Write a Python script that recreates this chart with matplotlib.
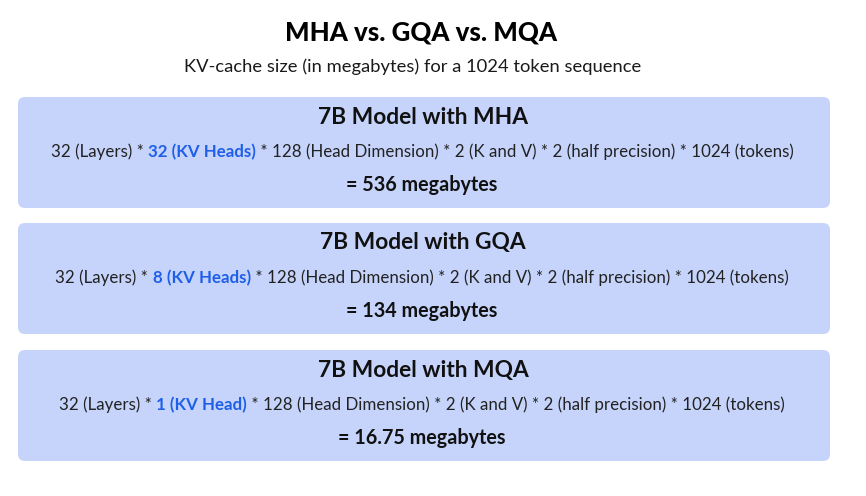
import matplotlib
matplotlib.use("Agg")
import matplotlib.pyplot as plt
from matplotlib.patches import FancyBboxPatch

plt.rcParams['font.family'] = ['Lato', 'DejaVu Sans']

title = "MHA vs. GQA vs. MQA"
subtitle = "KV-cache size (in megabytes) for a 1024 token sequence"
models = ["MHA", "GQA", "MQA"]
kv_heads = ["32 (KV Heads)", "8 (KV Heads)", "1 (KV Head)"]
results = ["536", "134", "16.75"]
prefix = "32 (Layers) * "
suffix = " * 128 (Head Dimension) * 2 (K and V) * 2 (half precision) * 1024 (tokens)"

W, H = 866, 496
fig = plt.figure(figsize=(W / 100, H / 100), dpi=100)
ax = fig.add_axes([0, 0, 1, 1])
ax.set_xlim(0, W)
ax.set_ylim(H, 0)
ax.axis('off')
fig.patch.set_facecolor('white')

box_color = '#c6d4fb'
blue = '#1f5fe8'
dark = '#222222'

ax.text(421, 33, title, ha='center', va='center', fontsize=18.6, fontweight='black', color='black')
ax.text(413, 67, subtitle, ha='center', va='center', fontsize=13.2, color='#1a1a1a')

box_top = [97, 223, 350]
box_h = 111
fig.canvas.draw()
renderer = fig.canvas.get_renderer()

for i, m in enumerate(models):
    y0 = box_top[i]
    ax.add_patch(FancyBboxPatch((18, y0), 812, box_h,
                                boxstyle="round,pad=0,rounding_size=7",
                                facecolor=box_color, edgecolor='none'))
    ax.text(423, y0 + 20, "7B Model with " + m, ha='center', va='center',
            fontsize=16.4, fontweight='bold', color='#111111')
    # formula line with blue highlighted part
    fy = y0 + 55
    parts = [(prefix, dark, 'normal'), (kv_heads[i], blue, 'bold'), (suffix, dark, 'normal')]
    texts = []
    for s, c, w in parts:
        t = ax.text(0, fy, s, ha='left', va='center', fontsize=12.2, color=c, fontweight=w)
        texts.append(t)
    widths = []
    for t in texts:
        bb = t.get_window_extent(renderer=renderer)
        widths.append(bb.width)
    total = sum(widths)
    x = 422 - total / 2
    for t, wd in zip(texts, widths):
        t.set_x(x)
        x += wd
    ax.text(422, y0 + 88, "= " + results[i] + " megabytes", ha='center', va='center',
            fontsize=14.2, fontweight='bold', color='#111111')

fig.savefig("out.png", dpi=100, facecolor='white')
